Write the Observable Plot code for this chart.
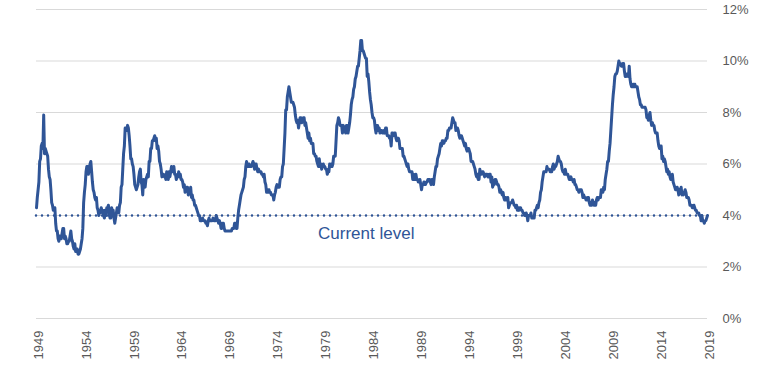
<!DOCTYPE html>
<html>
<head>
<meta charset="utf-8">
<script src="https://cdn.jsdelivr.net/npm/d3@7"></script>
<script src="https://cdn.jsdelivr.net/npm/@observablehq/plot@0.6"></script>
<style>
  html, body { margin: 0; padding: 0; background: #ffffff; }
</style>
</head>
<body>
<div id="chart"></div>
<script>
// Monthly unemployment rate (%), starting January 1949
const startYear = 1949;
const monthlyRate = [
  4.3,4.7,5.0,5.3,6.1,6.2,6.7,6.8,6.6,7.9,6.4,6.6, // 1949
  6.5,6.4,6.3,5.8,5.5,5.4,5.0,4.5,4.4,4.2,4.2,4.3, // 1950
  3.7,3.4,3.4,3.1,3.0,3.2,3.1,3.1,3.3,3.5,3.5,3.1, // 1951
  3.2,3.1,2.9,2.9,3.0,3.0,3.2,3.4,3.1,3.0,2.8,2.7, // 1952
  2.9,2.6,2.6,2.7,2.5,2.5,2.6,2.7,2.9,3.1,3.5,4.5, // 1953
  4.9,5.2,5.7,5.9,5.9,5.6,5.8,6.0,6.1,5.7,5.3,5.0, // 1954
  4.9,4.7,4.6,4.7,4.3,4.2,4.0,4.2,4.1,4.3,4.2,4.2, // 1955
  4.0,3.9,4.2,4.0,4.3,4.3,4.4,4.1,3.9,3.9,4.3,4.2, // 1956
  4.2,3.9,3.7,3.9,4.1,4.3,4.2,4.1,4.4,4.5,5.1,5.2, // 1957
  5.8,6.4,6.7,7.4,7.4,7.3,7.5,7.4,7.1,6.7,6.2,6.2, // 1958
  6.0,5.9,5.6,5.2,5.1,5.0,5.1,5.2,5.5,5.7,5.8,5.3, // 1959
  5.2,4.8,5.4,5.2,5.1,5.4,5.5,5.6,5.5,6.1,6.1,6.6, // 1960
  6.6,6.9,6.9,7.0,7.1,6.9,7.0,6.6,6.7,6.5,6.1,6.0, // 1961
  5.8,5.5,5.6,5.6,5.5,5.5,5.4,5.7,5.6,5.4,5.7,5.5, // 1962
  5.7,5.9,5.7,5.7,5.9,5.6,5.6,5.4,5.5,5.5,5.7,5.5, // 1963
  5.6,5.4,5.4,5.3,5.1,5.2,4.9,5.0,5.1,5.1,4.8,5.0, // 1964
  4.9,5.1,4.7,4.8,4.6,4.6,4.4,4.4,4.3,4.2,4.1,4.0, // 1965
  4.0,3.8,3.8,3.8,3.9,3.8,3.8,3.8,3.7,3.7,3.6,3.8, // 1966
  3.9,3.8,3.8,3.8,3.8,3.9,3.8,3.8,3.8,4.0,3.9,3.8, // 1967
  3.7,3.8,3.7,3.5,3.5,3.7,3.7,3.5,3.4,3.4,3.4,3.4, // 1968
  3.4,3.4,3.4,3.4,3.4,3.5,3.5,3.5,3.7,3.7,3.5,3.5, // 1969
  3.9,4.2,4.4,4.6,4.8,4.9,5.0,5.1,5.4,5.5,5.9,6.1, // 1970
  5.9,5.9,6.0,5.9,5.9,5.9,6.0,6.1,6.0,5.8,6.0,6.0, // 1971
  5.8,5.7,5.8,5.7,5.7,5.7,5.6,5.6,5.5,5.6,5.3,5.2, // 1972
  4.9,5.0,4.9,5.0,4.9,4.9,4.8,4.8,4.8,4.6,4.8,4.9, // 1973
  5.1,5.2,5.1,5.1,5.1,5.4,5.5,5.5,5.9,6.0,6.6,7.2, // 1974
  8.1,8.1,8.6,8.8,9.0,8.8,8.6,8.4,8.4,8.4,8.3,8.2, // 1975
  7.9,7.7,7.6,7.7,7.4,7.6,7.8,7.8,7.6,7.7,7.8,7.8, // 1976
  7.5,7.6,7.4,7.2,7.0,7.2,6.9,7.0,6.8,6.8,6.8,6.4, // 1977
  6.4,6.3,6.3,6.1,6.0,5.9,6.2,5.9,6.0,5.8,5.9,6.0, // 1978
  5.9,5.9,5.8,5.8,5.6,5.7,5.7,6.0,5.9,6.0,5.9,6.0, // 1979
  6.3,6.3,6.3,6.9,7.5,7.6,7.8,7.7,7.5,7.5,7.5,7.2, // 1980
  7.5,7.4,7.4,7.2,7.5,7.5,7.2,7.4,7.6,7.9,8.3,8.5, // 1981
  8.6,8.9,9.0,9.3,9.4,9.6,9.8,9.8,10.1,10.4,10.8,10.8, // 1982
  10.4,10.4,10.3,10.2,10.1,10.1,9.4,9.5,9.2,8.8,8.5,8.3, // 1983
  8.0,7.8,7.8,7.7,7.4,7.2,7.5,7.5,7.3,7.4,7.2,7.3, // 1984
  7.3,7.2,7.2,7.3,7.2,7.4,7.4,7.1,7.1,7.1,7.0,7.0, // 1985
  6.7,7.2,7.2,7.1,7.2,7.2,7.0,6.9,7.0,7.0,6.9,6.6, // 1986
  6.6,6.6,6.6,6.3,6.3,6.2,6.1,6.0,5.9,6.0,5.8,5.7, // 1987
  5.7,5.7,5.7,5.4,5.6,5.4,5.4,5.6,5.4,5.4,5.3,5.3, // 1988
  5.4,5.2,5.0,5.2,5.2,5.3,5.2,5.2,5.3,5.3,5.4,5.4, // 1989
  5.4,5.3,5.2,5.4,5.4,5.2,5.5,5.7,5.9,5.9,6.2,6.3, // 1990
  6.4,6.6,6.8,6.7,6.9,6.9,6.8,6.9,6.9,7.0,7.0,7.3, // 1991
  7.3,7.4,7.4,7.4,7.6,7.8,7.7,7.6,7.6,7.3,7.4,7.4, // 1992
  7.3,7.1,7.0,7.1,7.1,7.0,6.9,6.8,6.7,6.8,6.6,6.5, // 1993
  6.6,6.6,6.5,6.4,6.1,6.1,6.1,6.0,5.9,5.8,5.6,5.5, // 1994
  5.6,5.4,5.4,5.8,5.6,5.6,5.7,5.7,5.6,5.5,5.6,5.6, // 1995
  5.6,5.5,5.5,5.6,5.6,5.3,5.5,5.1,5.2,5.2,5.4,5.4, // 1996
  5.3,5.2,5.2,5.1,4.9,5.0,4.9,4.8,4.9,4.7,4.6,4.7, // 1997
  4.6,4.6,4.7,4.3,4.4,4.5,4.5,4.5,4.6,4.5,4.4,4.4, // 1998
  4.3,4.4,4.2,4.3,4.2,4.3,4.3,4.2,4.2,4.1,4.1,4.0, // 1999
  4.0,4.1,4.0,3.8,4.0,4.0,4.0,4.1,3.9,3.9,3.9,3.9, // 2000
  4.2,4.2,4.3,4.4,4.3,4.5,4.6,4.9,5.0,5.3,5.5,5.7, // 2001
  5.7,5.7,5.7,5.9,5.8,5.8,5.8,5.7,5.7,5.7,5.9,6.0, // 2002
  5.8,5.9,5.9,6.0,6.1,6.3,6.2,6.1,6.1,6.0,5.8,5.7, // 2003
  5.7,5.6,5.8,5.6,5.6,5.6,5.5,5.4,5.4,5.5,5.4,5.4, // 2004
  5.3,5.4,5.2,5.2,5.1,5.0,5.0,4.9,5.0,5.0,5.0,4.9, // 2005
  4.7,4.8,4.7,4.7,4.6,4.6,4.7,4.7,4.5,4.4,4.5,4.4, // 2006
  4.6,4.5,4.4,4.5,4.4,4.6,4.7,4.6,4.7,4.7,4.7,5.0, // 2007
  5.0,4.9,5.1,5.0,5.4,5.6,5.8,6.1,6.1,6.5,6.8,7.3, // 2008
  7.8,8.3,8.7,9.0,9.4,9.5,9.5,9.6,9.8,10.0,9.9,9.9, // 2009
  9.8,9.8,9.9,9.9,9.6,9.4,9.4,9.5,9.5,9.4,9.8,9.3, // 2010
  9.1,9.0,9.0,9.1,9.0,9.1,9.0,9.0,9.0,8.8,8.6,8.5, // 2011
  8.3,8.3,8.2,8.2,8.2,8.2,8.2,8.1,7.8,7.8,7.7,7.9, // 2012
  8.0,7.7,7.5,7.6,7.5,7.5,7.3,7.2,7.2,7.2,6.9,6.7, // 2013
  6.6,6.7,6.7,6.2,6.3,6.1,6.2,6.1,5.9,5.7,5.8,5.6, // 2014
  5.7,5.5,5.4,5.4,5.6,5.3,5.2,5.1,5.0,5.0,5.1,5.0, // 2015
  4.8,4.9,5.0,5.1,4.8,4.9,4.8,4.9,5.0,4.9,4.7,4.7, // 2016
  4.7,4.6,4.4,4.4,4.4,4.3,4.3,4.4,4.3,4.2,4.2,4.1, // 2017
  4.1,4.1,4.0,4.0,3.8,4.0,3.8,3.8,3.7,3.8,3.8,3.9, // 2018
  4.0                                              // 2019
];
const xTicks = [1949,1954,1959,1964,1969,1974,1979,1984,1989,1994,1999,2004,2009,2014,2019];
const yTicks = [0,2,4,6,8,10,12];
const currentLevel = monthlyRate[monthlyRate.length - 1];
const labelText = "Current level";
const labelYear = 1983.4;
const labelValue = 3.3;

const series = monthlyRate.map((v, i) => ({ t: startYear + i / 12, v }));

const chart = Plot.plot({
  width: 767,
  height: 380,
  marginLeft: 36,
  marginRight: 60,
  marginTop: 9,
  marginBottom: 62,
  style: { fontFamily: "'Liberation Sans', Arial, sans-serif", fontSize: "13px", color: "#595959", background: "#ffffff", overflow: "visible" },
  x: { domain: [1949, 2019], label: null },
  y: { domain: [0, 12], label: null },
  marks: [
    Plot.gridY(yTicks, { stroke: "#D9D9D9", strokeOpacity: 1, strokeWidth: 1 }),
    Plot.axisY(yTicks, { anchor: "right", tickSize: 0, tickPadding: 15, tickFormat: d => d + "%", fill: "#595959", label: null, textAnchor: "start" }),
    Plot.axisX(xTicks, { anchor: "bottom", tickSize: 0, tickPadding: 12, tickRotate: -90, tickFormat: d => String(d), fill: "#595959", label: null, dx: 2 }),
    Plot.ruleY([currentLevel], { stroke: "#2F5597", strokeWidth: 2.5, strokeDasharray: "0 6", strokeLinecap: "round" }),
    Plot.line(series, { x: "t", y: "v", stroke: "#2F5597", strokeWidth: 3, strokeLinejoin: "round" }),
    Plot.text([{ x: labelYear, y: labelValue, text: labelText }], { x: "x", y: "y", text: "text", fill: "#2F5597", fontSize: 17, textAnchor: "middle" })
  ]
});
document.getElementById("chart").appendChild(chart);
</script>
</body>
</html>
